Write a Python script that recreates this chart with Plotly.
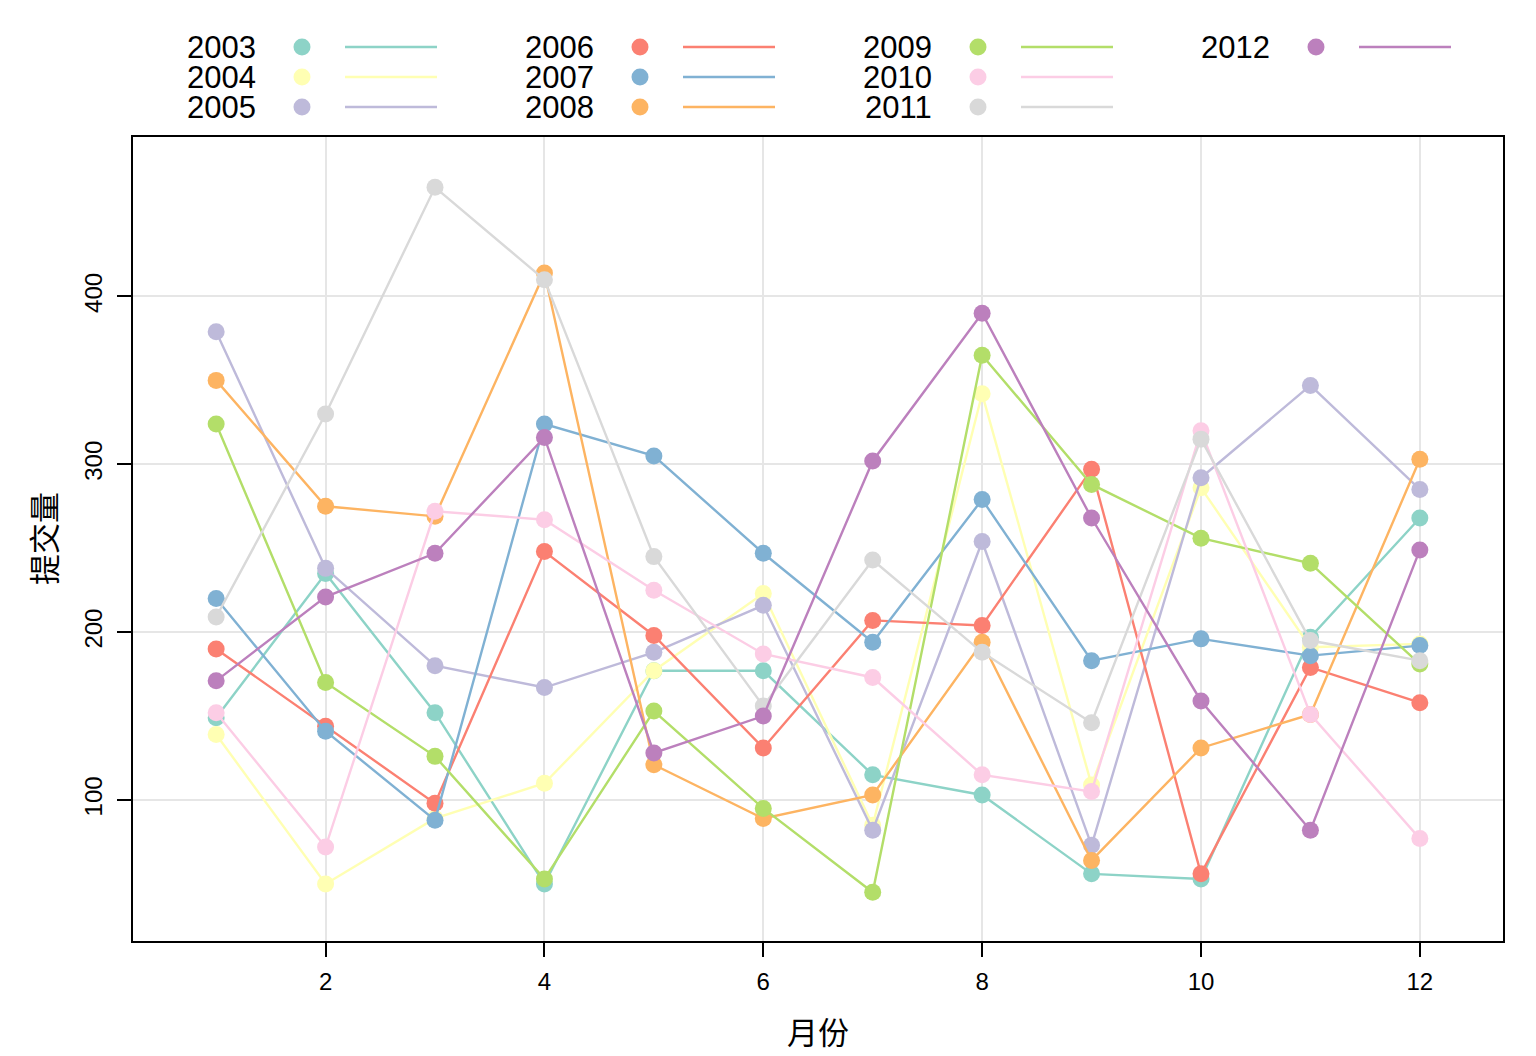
import plotly.graph_objects as go

months = list(range(1, 13))
years = ["2003", "2004", "2005", "2006", "2007", "2008", "2009", "2010", "2011", "2012"]
colors = ["#8DD3C7", "#FFFFB3", "#BEBADA", "#FB8072", "#80B1D3",
          "#FDB462", "#B3DE69", "#FCCDE5", "#D9D9D9", "#BC80BD"]

v2003 = [149, 235, 152, 50, 177, 177, 115, 103, 56, 53, 197, 268]
v2004 = [139, 50, 89, 110, 177, 223, 85, 342, 109, 286, 191, 193]
v2005 = [379, 238, 180, 167, 188, 216, 82, 254, 73, 292, 347, 285]
v2006 = [190, 144, 98, 248, 198, 131, 207, 204, 297, 56, 179, 158]
v2007 = [220, 141, 88, 324, 305, 247, 194, 279, 183, 196, 186, 192]
v2008 = [350, 275, 269, 414, 121, 89, 103, 194, 64, 131, 151, 303]
v2009 = [324, 170, 126, 53, 153, 95, 45, 365, 288, 256, 241, 181]
v2010 = [152, 72, 272, 267, 225, 187, 173, 115, 105, 320, 151, 77]
v2011 = [209, 330, 465, 410, 245, 156, 243, 188, 146, 315, 195, 183]
v2012 = [171, 221, 247, 316, 128, 150, 302, 390, 268, 159, 82, 249]
series = [v2003, v2004, v2005, v2006, v2007, v2008, v2009, v2010, v2011, v2012]

x_ticks = [2, 4, 6, 8, 10, 12]
y_ticks = [100, 200, 300, 400]

W, H = 1536, 1056
L, R, T, B = 133, 1503, 137, 941

fig = go.Figure()
for name, vals, col in zip(years, series, colors):
    fig.add_trace(go.Scatter(
        x=months, y=vals, mode="lines+markers", name=name,
        line=dict(color=col, width=2.4),
        marker=dict(color=col, size=17),
        showlegend=False,
    ))

def px_x(p):
    return (p - L) / (R - L)

def px_y(p):
    return (B - p) / (B - T)

shapes = []
annotations = []
for i, (name, col) in enumerate(zip(years, colors)):
    c, r = i // 3, i % 3
    tx = 258 + 338 * c
    ty = 47 + 30 * r
    annotations.append(dict(
        x=px_x(tx), y=px_y(ty), xref="paper", yref="paper",
        text=name, showarrow=False, xanchor="right", yanchor="middle",
        font=dict(size=31, color="black", family="Liberation Sans"),
    ))
    shapes.append(dict(
        type="circle", xref="paper", yref="paper", xsizemode="pixel", ysizemode="pixel",
        xanchor=px_x(tx + 44), yanchor=px_y(ty),
        x0=-8.5, x1=8.5, y0=-8.5, y1=8.5,
        fillcolor=col, line=dict(width=0),
    ))
    shapes.append(dict(
        type="line", xref="paper", yref="paper",
        x0=px_x(tx + 87), x1=px_x(tx + 179), y0=px_y(ty), y1=px_y(ty),
        line=dict(color=col, width=2.4),
    ))

annotations.append(dict(
    x=px_x((L + R) / 2), y=px_y(1030), xref="paper", yref="paper",
    text="月份", showarrow=False, xanchor="center", yanchor="middle",
    font=dict(size=31, color="black", family="Noto Sans CJK SC"),
))
annotations.append(dict(
    x=px_x(42), y=px_y((T + B) / 2), xref="paper", yref="paper",
    text="提交量", showarrow=False, xanchor="center", yanchor="middle",
    textangle=-90,
    font=dict(size=31, color="black", family="Noto Sans CJK SC"),
))

fig.update_layout(
    width=W, height=H,
    margin=dict(l=L, r=W - R, t=T, b=H - B),
    plot_bgcolor="white", paper_bgcolor="white",
    font=dict(family="Liberation Sans", color="black"),
    shapes=shapes, annotations=annotations,
    showlegend=False,
)
fig.update_xaxes(
    range=[0.24, 12.76], tickvals=x_ticks, ticks="outside", ticklen=14,
    tickcolor="black", tickwidth=1.5, ticklabelstandoff=4,
    tickfont=dict(size=24, family="Liberation Sans"),
    showgrid=True, gridcolor="#E6E6E6", gridwidth=1.5,
    showline=True, linecolor="black", linewidth=1.5, mirror=True,
    zeroline=False,
)
fig.update_yaxes(
    range=[16, 495], tickvals=y_ticks, ticks="outside", ticklen=14,
    tickcolor="black", tickwidth=1.5, tickangle=-90, ticklabelstandoff=6,
    tickfont=dict(size=24, family="Liberation Sans"),
    showgrid=True, gridcolor="#E6E6E6", gridwidth=1.5,
    showline=True, linecolor="black", linewidth=1.5, mirror=True,
    zeroline=False,
)

fig.write_html("out.html")
